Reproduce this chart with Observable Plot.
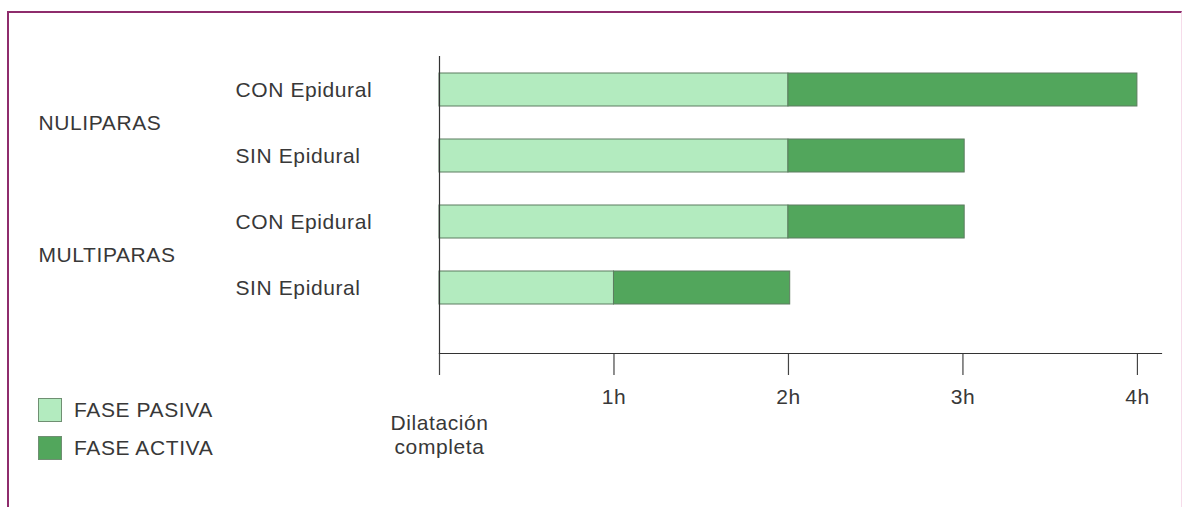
<!DOCTYPE html>
<html>
<head>
<meta charset="utf-8">
<script src="https://cdn.jsdelivr.net/npm/d3@7"></script>
<script src="https://cdn.jsdelivr.net/npm/@observablehq/plot@0.6"></script>
<style>
  html, body { margin: 0; padding: 0; background: #fff; }
  #wrap { position: relative; width: 1185px; height: 507px; overflow: hidden; font-family: "Liberation Sans", Arial, sans-serif; color: #383838; }
  #border { position: absolute; left: 7px; top: 11px; width: 1175px; height: 520px; border-top: 2px solid #8e2c6c; border-left: 2px solid #8e2c6c; border-right: 1px solid #f6dcea; box-sizing: border-box; pointer-events: none; }
  .leg { position: absolute; left: 38px; display: flex; align-items: center; font-size: 21px; letter-spacing: 0.6px; }
  .sw { width: 24px; height: 24px; margin-right: 12px; box-sizing: border-box; border: 1px solid #6f8f72; }
</style>
</head>
<body>
<div id="wrap">
  <div id="chart"></div>
  <div id="border"></div>
  <div id="legend"></div>
</div>
<script>
// Data
const rows = ["NUL_CON", "NUL_SIN", "MUL_CON", "MUL_SIN"];
const rowLabels = ["CON Epidural", "SIN Epidural", "CON Epidural", "SIN Epidural"];
const groups = ["NULIPARAS", "MULTIPARAS"];
const groupRows = ["NUL_CON", "MUL_CON"];
const phases = ["FASE PASIVA", "FASE ACTIVA"];
const pasiva = [2, 2, 2, 1];
const activa = [2, 1.01, 1.01, 1.01];
const tickValues = [0, 1, 2, 3, 4];
const tickLabels = ["", "1h", "2h", "3h", "4h"];
const zeroLabel = "Dilatación\ncompleta";

const colors = ["#b3ebbf", "#52a65c"];

const bars = [];
rows.forEach((r, i) => {
  bars.push({row: r, phase: phases[0], x1: 0, x2: pasiva[i]});
  bars.push({row: r, phase: phases[1], x1: pasiva[i], x2: pasiva[i] + activa[i]});
});

const fontSize = 21;
const ls = 0.6;
const chart = Plot.plot({
  width: 1185,
  height: 507,
  marginLeft: 439,
  marginRight: 24,
  marginTop: 56,
  marginBottom: 154,
  style: {fontFamily: "'Liberation Sans', Arial, sans-serif", fontSize: fontSize + "px", color: "#383838", background: "transparent", letterSpacing: ls + "px"},
  x: {domain: [0, 4.138], axis: null},
  y: {domain: rows, range: [56, 353], paddingInner: 0.5, paddingOuter: 0.483, align: 0.265, axis: null},
  color: {domain: phases, range: colors},
  marks: [
    Plot.rectX(bars, {y: "row", x1: "x1", x2: "x2", fill: "phase", stroke: "#5d7d60", strokeWidth: 1}),
    Plot.axisX({
      ticks: tickValues, tickSize: 22, tickPadding: 14, tickFormat: (d) => tickLabels[tickValues.indexOf(d)],
      stroke: "#444", strokeWidth: 1.2, fontSize: fontSize, fill: "#383838", anchor: "bottom", label: null
    }),
    Plot.frame({anchor: "bottom", stroke: "#333", strokeWidth: 1.2}),
    Plot.frame({anchor: "left", stroke: "#333", strokeWidth: 1.2}),
    Plot.text([0], {x: d => d, frameAnchor: "bottom", dy: 100, text: () => zeroLabel, lineHeight: 1.1, fontSize: fontSize, fill: "#383838"}),
    Plot.text(rows, {y: d => d, frameAnchor: "left", dx: -204, textAnchor: "start", text: (d, i) => rowLabels[i], fontSize: fontSize, fill: "#383838"}),
    Plot.text(groupRows, {y: d => d, frameAnchor: "left", dx: -401, dy: 33.5, textAnchor: "start", text: (d, i) => groups[i], fontSize: fontSize, fill: "#383838"})
  ]
});
document.getElementById("chart").appendChild(chart);

const legend = document.getElementById("legend");
phases.forEach((p, i) => {
  const el = document.createElement("div");
  el.className = "leg";
  el.style.top = (398 + i * 38) + "px";
  el.innerHTML = `<div class="sw" style="background:${colors[i]}"></div><span>${p}</span>`;
  legend.appendChild(el);
});
</script>
</body>
</html>
